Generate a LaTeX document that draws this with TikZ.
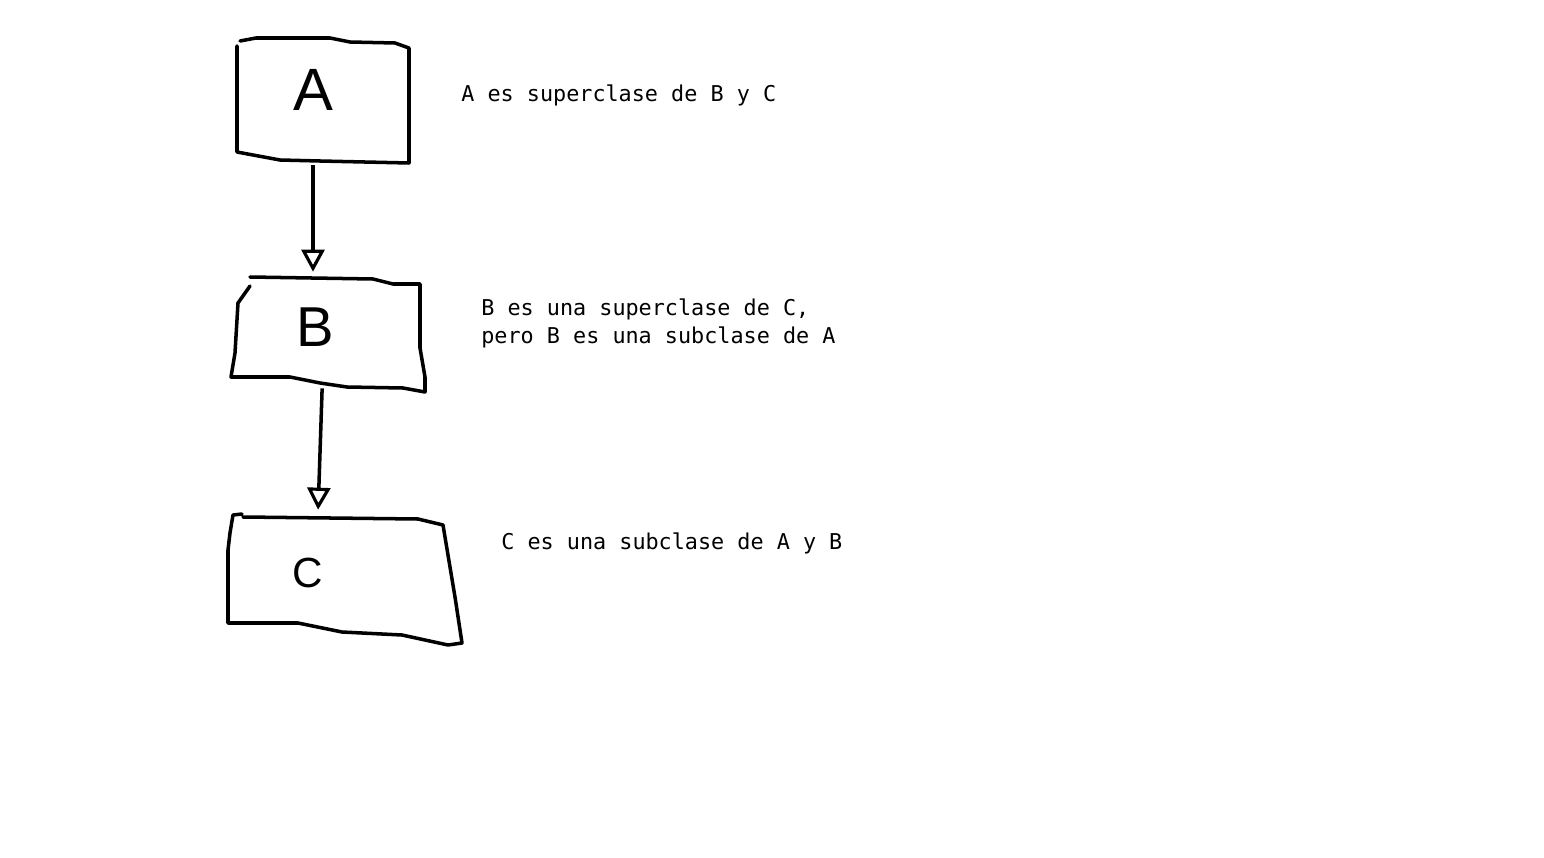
\documentclass[tikz,border=0pt]{standalone}
\usepackage{fontspec}
\usepackage{xcolor}
\usepackage{tikz}
\usetikzlibrary{positioning, arrows.meta, calc}
\newfontfamily\notefont{DejaVu Sans Mono}
\newfontfamily\handfont{Liberation Sans}
\definecolor{skInk}{HTML}{000000}
\tikzset{
  sketch/.style={
    draw=skInk, line width=2pt,
    line join=round, line cap=round
  },
  hitbox/.style={
    rectangle, draw=none, inner sep=0pt
  },
  letter/.style={
    inner sep=0pt, anchor=base, text=skInk
  },
  note/.style={
    inner sep=0pt, anchor=base west, align=left,
    font=\notefont\fontsize{12.4pt}{15.4pt}\selectfont, text=skInk
  },
  arrow/.style={
    -{Triangle[open, length=4.4mm, width=4.6mm, line width=1.8pt]},
    skInk, line width=2pt
  }
}
\begin{document}
\begin{tikzpicture}[x=0.02cm, y=-0.02cm]
      \useasboundingbox (0,0) rectangle (1544,858);
      % Class boxes (areas used by the arrows)
      \node[hitbox, minimum width=3.44cm, minimum height=2.5cm] (boxA) at (323,100.5) {};
      \node[hitbox, minimum width=3.88cm, minimum height=2.3cm] (boxB) at (328,334.5) {};
      \node[hitbox, minimum width=4.7cm, minimum height=2.62cm] (boxC) at (345,579.5) {};
      % Hand drawn outlines
      \draw[sketch] (240,41) -- (256,38) -- (330,38) -- (350,42) -- (395,43) -- (409,48)
        -- (409,163) -- (320,161) -- (280,160) -- (253,155) -- (237,152) -- (237,46);
      \draw[sketch] (250,277) -- (373,279) -- (393,284) -- (420,284) -- (420,348) -- (425,377)
        -- (425,392) -- (403,388) -- (347,387) -- (320,383) -- (290,377) -- (231,377)
        -- (235,353) -- (238,303) -- (250,286);
      \draw[sketch] (243,517) -- (418,519) -- (443,525) -- (445,537) -- (455,597) -- (462,643)
        -- (448,645) -- (402,635) -- (342,632) -- (298,623) -- (228,623) -- (228,550)
        -- (230,533) -- (233,515) -- (242,514);
      % Class names
      \node[letter, font=\handfont\fontsize{34pt}{34pt}\selectfont] (A) at (313,111) {A};
      \node[letter, font=\handfont\fontsize{32pt}{32pt}\selectfont] (B) at (315,346) {B};
      \node[letter, font=\handfont\fontsize{24pt}{24pt}\selectfont] (C) at (308,587) {C};
      % Inheritance arrows
      \draw[arrow, shorten <=0.04cm, shorten >=0.1cm] (boxA.south -| A) -- (boxB.north -| A);
      \draw[arrow, shorten <=-0.08cm, shorten >=0.08cm] ([xshift=0.14cm]boxB.south -| B) -- ([xshift=0.06cm]boxC.north -| B);
      % Notes
      \node[note] (noteA) at (461,102) {A es superclase de B y C};
      \node[note] (noteB) at (481,343) {B es una superclase de C,\\pero B es una subclase de A};
      \node[note] (noteC) at (501,549) {C es una subclase de A y B};
    \end{tikzpicture}
\end{document}
